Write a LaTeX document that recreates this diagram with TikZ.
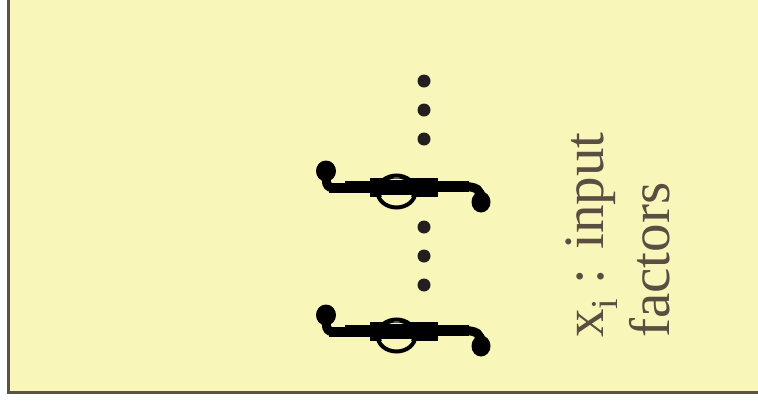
\documentclass[tikz,border=0pt]{standalone}
\usepackage{fontspec}
\setmainfont{Liberation Serif}
\definecolor{bgyellow}{HTML}{F9F6B9}
\definecolor{frame}{HTML}{5B5147}
\definecolor{txt}{HTML}{5A4E42}
\definecolor{dotc}{HTML}{231F20}
\tikzset{
  dotmark/.style={fill=dotc, draw=none},
  labeltext/.style={anchor=base west, rotate=90, inner sep=0pt, text=txt,
    font=\fontsize{57pt}{68pt}\selectfont},
  ointsym/.pic={
    \fill[black] (-27,-9) rectangle (41,10);
    \fill[black] (-52,-6) rectangle (-27,6);
    \fill[black] (-68,-4) rectangle (-52,5.5);
    \fill[black] (41,-6) rectangle (72,5);
    \draw[black, line width=9pt] (-71,-14) .. controls (-71,0) and (-70,1) .. (-58,1);
    \draw[black, line width=9pt] (66,-0.5) .. controls (80,-0.5) and (84,3) .. (84,12);
    \fill[black] (-71,-16) ellipse (10 and 10.5);
    \fill[black] (84,15) ellipse (9.5 and 10.5);
    \fill[bgyellow] (-0.5,4.5) ellipse (16 and 13);
    \fill[black] (-18,-7) rectangle (17,8);
    \draw[black, line width=4pt] (-0.5,4.5) ellipse (19 and 16);
  }
}
\begin{document}
\begin{tikzpicture}[x=1pt,y=-1pt]
\useasboundingbox (0,0) rectangle (758,405);
\draw[frame, fill=bgyellow, line width=3pt] (8.5,-10) rectangle (775,392.5);
\pic (int1) at (397,187) {ointsym};
\pic (int2) at (397,331) {ointsym};
\fill[dotmark] (424,81) circle (6.5);
\fill[dotmark] (424,110) circle (6.5);
\fill[dotmark] (424,139) circle (6.5);
\fill[dotmark] (424,227) circle (6.5);
\fill[dotmark] (424,256) circle (6.5);
\fill[dotmark] (424,285) circle (6.5);
\node[labeltext] (l1) at (603,338) {x{\fontsize{38pt}{40pt}\selectfont\raisebox{-14pt}{i}} : input};
\node[labeltext] (l2) at (669,338) {factors};
\end{tikzpicture}
\end{document}
